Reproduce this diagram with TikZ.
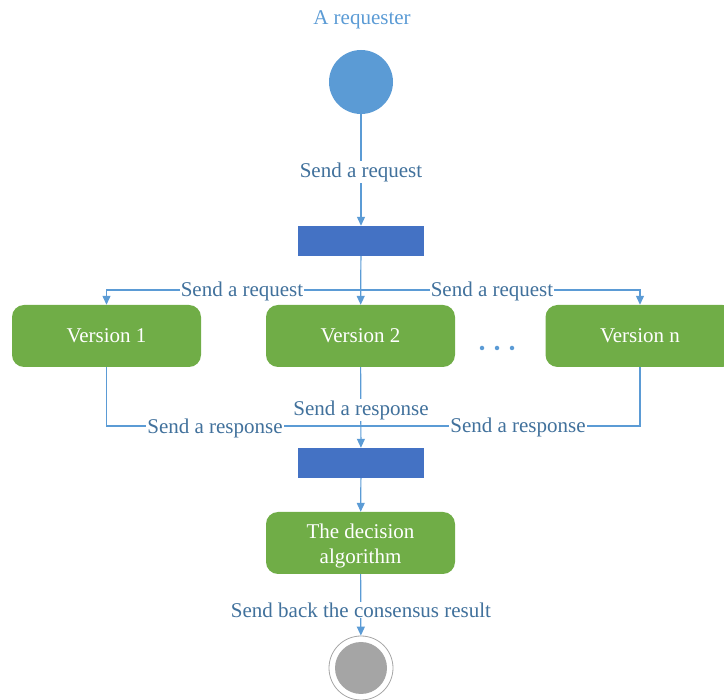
\documentclass[tikz,border=0pt]{standalone}
\usepackage{fontspec}
\setmainfont{Liberation Serif}
\usetikzlibrary{arrows.meta}
\definecolor{flowblue}{HTML}{5B9BD5}
\definecolor{labelblue}{HTML}{41719C}
\definecolor{barblue}{HTML}{4472C4}
\definecolor{boxgreen}{HTML}{70AD47}
\definecolor{endgray}{HTML}{A5A5A5}
\begin{document}
\begin{tikzpicture}[x=1pt,y=-1pt,
  font=\fontsize{21}{25}\selectfont,
  flow/.style={draw=flowblue,line width=1.2pt},
  arr/.style={flow,-{Triangle[width=8pt,length=9pt]}},
  lbl/.style={text=labelblue,fill=white,inner sep=1pt},
  bar/.style={fill=barblue,minimum width=126pt,minimum height=30pt,inner sep=0pt},
  version/.style={fill=boxgreen,rounded corners=12pt,minimum width=189pt,minimum height=62pt,inner sep=0pt,text=white,align=center}]
\useasboundingbox (0,0) rectangle (724,700);
\clip (0,0) rectangle (724,700);

% start state
\node[text=flowblue] (title) at (362,20) {A requester};
\node[circle,fill=flowblue,minimum size=64pt,inner sep=0pt] (start) at (361,82) {};

% fork bar and the versions
\node[bar] (fork) at (361,241) {};
\node[version] (v1) at (106.5,336) {\raisebox{-1pt}{Version 1}};
\node[version] (v2) at (360.5,336) {\raisebox{-1pt}{Version 2}};
\node[version] (vn) at (640,336) {\raisebox{-1pt}{Version n}};
\foreach \i/\xx in {a/482,b/497,c/512}
  \node[circle,fill=flowblue,minimum size=4.5pt,inner sep=0pt] (dot\i) at (\xx,348) {};

% join bar, decision and end state
\node[bar] (join) at (361,463) {};
\node[version] (dec) at (360.5,543) {\rule{0pt}{20pt}The decision\\algorithm};
\node[circle,draw=endgray,line width=0.8pt,minimum size=64pt,inner sep=0pt] (endring) at (361,668) {};
\node[circle,fill=endgray,minimum size=52pt,inner sep=0pt] (enddot) at (361,668) {};

% request flow
\coordinate (split) at (361,290);
\draw[arr] (start) -- (fork);
\draw[arr] (fork) -- (v2);
\draw[arr] (split) -| (v1.north);
\draw[arr] (split) -| (vn.north);
\node[lbl] (req0) at (361,172) {Send a request};
\node[lbl] (req1) at (242,291) {Send a request};
\node[lbl] (req2) at (492,291) {Send a request};

% response flow
\coordinate (merge) at (361,426);
\draw[flow] (v1.south) |- (merge);
\draw[flow] (vn.south) |- (merge);
\draw[arr] (v2) -- (join);
\node[lbl] (res1) at (215,428) {Send a response};
\node[lbl] (res2) at (361,410) {Send a response};
\node[lbl] (res3) at (518,427) {Send a response};

% decision and result
\draw[arr] (join) -- (dec);
\draw[arr] (dec) -- (endring);
\node[lbl] (back) at (361,610) {Send back the consensus result};
\end{tikzpicture}
\end{document}
